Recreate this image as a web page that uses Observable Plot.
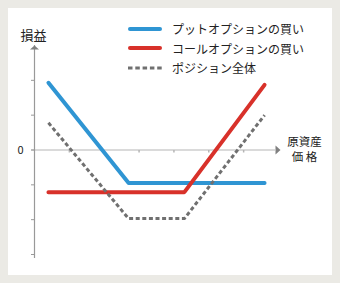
<!DOCTYPE html>
<html><head><meta charset="utf-8">
<script src="https://cdn.jsdelivr.net/npm/d3@7"></script>
<script src="https://cdn.jsdelivr.net/npm/@observablehq/plot@0.6"></script>
<style>
html,body{margin:0;padding:0;}
body{width:340px;height:283px;background:#ebeae5;position:relative;overflow:hidden;font-family:"Noto Sans CJK JP","Noto Sans",sans-serif;}
#panel{position:absolute;left:8px;top:8px;width:324px;height:267px;background:#fff;}
#chart{position:absolute;left:0;top:0;}
#legend{position:absolute;left:128px;top:19px;}
.row{display:flex;align-items:center;height:19.5px;font-size:12px;color:#222;white-space:nowrap;}
.row svg{margin-right:10px;}
</style></head>
<body>
<div id="panel"></div>
<div id="chart"></div>
<div id="legend"></div>
<script>
// Data (axis units = tick intervals)
const price = [0.4, 2.7, 4.3, 6.6];
const putPayoff = [1.93, -0.95, -0.95, -0.95];
const callPayoff = [-1.21, -1.21, -1.21, 1.87];
const totalPayoff = [0.78, -1.97, -1.97, 1.0];
const seriesNames = ["プットオプションの買い", "コールオプションの買い", "ポジション全体"];
const seriesColors = ["#2f95d3", "#d8312a", "#707070"];
const xTicks = [1, 2, 3, 4, 5, 6];
const yTicks = [-3, -2, -1, 0, 1, 2];
const yLabel = "損益";
const xLabelLines = ["原資産", "価 格"];

const put = price.map((x, i) => ({x, y: putPayoff[i]}));
const call = price.map((x, i) => ({x, y: callPayoff[i]}));
const total = price.map((x, i) => ({x, y: totalPayoff[i]}));

const tickDown = {draw(ctx) { ctx.moveTo(0, 0); ctx.lineTo(0, 2.5); }};
const arrowUp = {draw(ctx) { ctx.moveTo(0, -2); ctx.lineTo(4.5, 2); ctx.lineTo(-4.5, 2); ctx.closePath(); }};
const arrowRight = {draw(ctx) { ctx.moveTo(2, 0); ctx.lineTo(-3, 4.5); ctx.lineTo(-3, -4.5); ctx.closePath(); }};

const chart = Plot.plot({
  width: 340, height: 283,
  marginLeft: 34, marginRight: 62, marginTop: 45, marginBottom: 29,
  style: {background: "transparent", fontFamily: '"Noto Sans CJK JP","Noto Sans",sans-serif'},
  x: {domain: [0, 7], axis: null},
  y: {domain: [-3, 3]},
  marks: [
    Plot.ruleY([0], {x1: -0.08, x2: 7, stroke: "#b5b5b5", strokeWidth: 1.2, insetRight: 3}),
    Plot.dot(xTicks, {x: d => d, y: 0, symbol: tickDown, stroke: "#b5b5b5", fill: "none"}),
    Plot.dot([7], {x: d => d, y: 0, symbol: arrowRight, fill: "#808080", stroke: "none"}),
    Plot.ruleX([0], {y1: -3, y2: 3, stroke: "#999", strokeWidth: 1.2, insetTop: 4}),
    Plot.dot([3], {x: 0, y: d => d, dy: 2, symbol: arrowUp, fill: "#808080", stroke: "none"}),
    Plot.axisY({ticks: yTicks, tickSize: 3, tickPadding: 8, label: null, anchor: "left",
      tickFormat: d => d === 0 ? "0" : "", stroke: "#999", fill: "#222", fontSize: 11}),
    Plot.line(put, {x: "x", y: "y", stroke: seriesColors[0], strokeWidth: 4, strokeLinecap: "round"}),
    Plot.line(call, {x: "x", y: "y", stroke: seriesColors[1], strokeWidth: 4, strokeLinecap: "round"}),
    Plot.line(total, {x: "x", y: "y", stroke: seriesColors[2], strokeWidth: 3, strokeLinecap: "butt", strokeDasharray: "4,2.6"}),
    Plot.text([yLabel], {x: 0, y: 3, dx: -1, dy: -10, text: d => d, fontSize: 13, fill: "#222", letterSpacing: "0.5px"}),
    Plot.text([xLabelLines[0]], {x: 7, y: 0, dx: 26, dy: -7.5, text: d => d, fontSize: 11.5, fill: "#222"}),
    Plot.text([xLabelLines[1]], {x: 7, y: 0, dx: 26, dy: 7.5, text: d => d, fontSize: 11.5, fill: "#222"})
  ]
});
document.getElementById("chart").append(chart);

const legend = d3.select("#legend");
seriesNames.forEach((name, i) => {
  const row = legend.append("div").attr("class", "row");
  const svg = row.append("svg").attr("width", 34).attr("height", 6);
  svg.append("line").attr("x1", i < 2 ? 2 : 0).attr("x2", i < 2 ? 32 : 34).attr("y1", 3).attr("y2", 3)
    .attr("stroke", seriesColors[i]).attr("stroke-width", i < 2 ? 4 : 3)
    .attr("stroke-linecap", i < 2 ? "round" : "butt")
    .attr("stroke-dasharray", i < 2 ? null : "4.5,2.8");
  row.append("span").text(name);
});
</script>
</body></html>
